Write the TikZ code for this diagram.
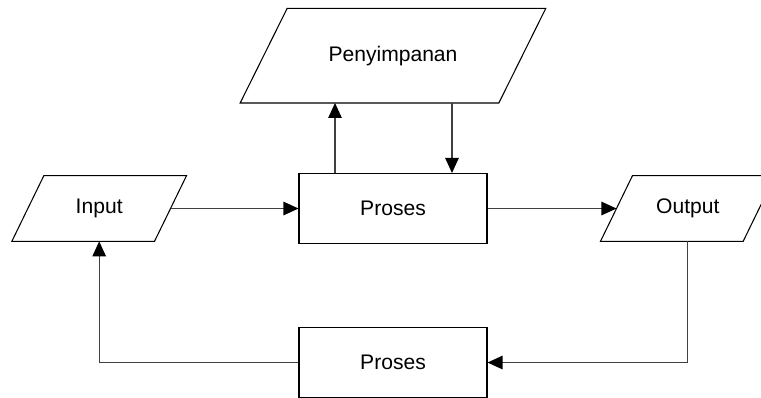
\documentclass[tikz,border=0pt]{standalone}
\usepackage{fontspec}
\setmainfont{Liberation Sans}
\usetikzlibrary{arrows.meta, positioning}

% slanted outline round a named node: #1 node, #2 half of the slant
\newcommand{\ioframe}[2]{%
  \draw[line width=0.6pt] ([xshift=#2]#1.north west) -- ([xshift=#2]#1.north east)
    -- ([xshift=-#2]#1.south east) -- ([xshift=-#2]#1.south west) -- cycle;}

\begin{document}
\begin{tikzpicture}[
    x=0.02cm, y=-0.02cm,
    node distance=1.4cm and 2.56cm,
    proc/.style={rectangle, draw, line width=0.6pt, minimum width=3.76cm, minimum height=1.4cm, align=center, font=\fontsize{12}{14}\selectfont},
    io/.style={rectangle, minimum width=2.84cm, minimum height=1.3cm, align=center, font=\fontsize{12}{14}\selectfont},
    arrow/.style={-{Triangle[length=0.3cm, width=0.27cm, color=black]}, black!75, line width=0.6pt},
]
\useasboundingbox (0,0) rectangle (761,397);

% Main process
\node[proc] (proses) at (393,208.5) {Proses};

% Input, output and storage
\node[io, left=of proses] (input) {Input};
\node[io, right=2.58cm of proses] (output) {Output};
\node[io, above=of proses, minimum width=5.16cm, minimum height=1.88cm] (simpan) {Penyimpanan};
\ioframe{input}{0.32cm}
\ioframe{output}{0.32cm}
\ioframe{simpan}{0.47cm}

% Feedback process
\node[proc, below=1.66cm of proses] (balik) {Proses};

% Arrows
\draw[arrow] (input) -- (proses);
\draw[arrow] (proses) -- (output);
\draw[arrow] ([xshift=-1.16cm]proses.north) -- ([xshift=-1.16cm]simpan.south);
\draw[arrow] ([xshift=1.18cm]simpan.south) -- ([xshift=1.18cm]proses.north);

% Feedback loop
\draw[arrow] (output.south) |- (balik.east);
\draw[arrow] (balik.west) -| (input.south);

\end{tikzpicture}
\end{document}
